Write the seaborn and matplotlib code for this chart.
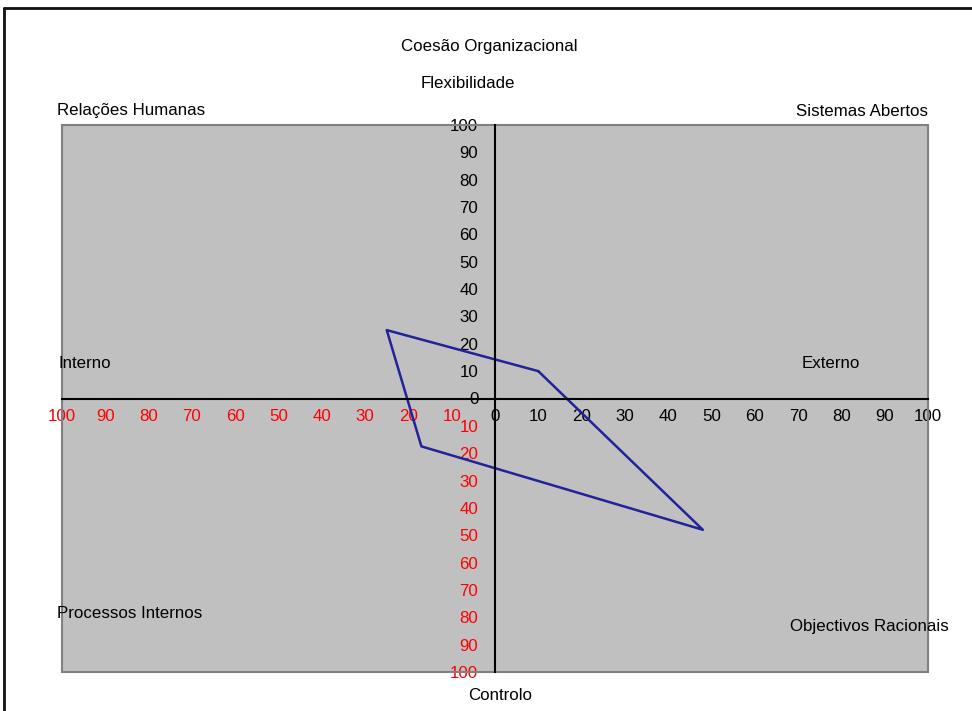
import matplotlib
matplotlib.use("Agg")
import matplotlib.pyplot as plt
from matplotlib.patches import Rectangle
from matplotlib.lines import Line2D
import seaborn as sns
import pandas as pd

# Profile points (Interno/Externo on x, Controlo/Flexibilidade on y)
profile_x = [10, 48, -17, -25]
profile_y = [10, -48, -17.5, 25]

tick_values = list(range(-100, 101, 10))
tick_labels = [str(abs(v)) for v in tick_values]

sns.set_style("white")
plt.rcParams['font.family'] = ['Liberation Sans', 'DejaVu Sans']

FS = 12.2
W, H = 972, 711
fig = plt.figure(figsize=(W / 100, H / 100), dpi=100)
ax = fig.add_axes([62 / W, 1 - 672 / H, (928 - 62) / W, (672 - 125) / H])
ax.set_facecolor('#C0C0C0')

# closed polygon
df = pd.DataFrame({
    'x': profile_x + profile_x[:1],
    'y': profile_y + profile_y[:1],
})
sns.lineplot(data=df, x='x', y='y', sort=False, estimator=None,
             color='#22229a', linewidth=1.8, ax=ax)

ax.set_xlim(-100, 100)
ax.set_ylim(-100, 100)
ax.set_xlabel('')
ax.set_ylabel('')

for s in ['top', 'right']:
    ax.spines[s].set_visible(False)
for s in ['left', 'bottom']:
    ax.spines[s].set_position(('data', 0))
    ax.spines[s].set_color('black')
    ax.spines[s].set_linewidth(1.5)
    ax.spines[s].set_zorder(3)

ax.set_xticks(tick_values)
ax.set_xticklabels(tick_labels)
ax.set_yticks(tick_values)
ax.set_yticklabels(tick_labels)
ax.tick_params(axis='both', direction='out', length=5, width=1.3,
               color='black', labelsize=FS)
ax.tick_params(axis='x', pad=2.5)
ax.tick_params(axis='y', pad=7)
for lbl, v in zip(ax.get_xticklabels(), tick_values):
    lbl.set_color('red' if v < 0 else 'black')
for lbl, v in zip(ax.get_yticklabels(), tick_values):
    lbl.set_color('red' if v < 0 else 'black')

# plot-area frame
ax.add_patch(Rectangle((0, 0), 1, 1, transform=ax.transAxes, fill=False,
                       edgecolor='#808080', linewidth=1.5, clip_on=False, zorder=1))

# outer chart frame (left and top edges)
fig.add_artist(Line2D([4 / W, 4 / W], [0, 1 - 8 / H], transform=fig.transFigure,
                      color='#111111', linewidth=2))
fig.add_artist(Line2D([4 / W, 1], [1 - 8 / H, 1 - 8 / H], transform=fig.transFigure,
                      color='#111111', linewidth=2))


def label(x, y, s, ha='left'):
    fig.text(x / W, 1 - y / H, s, ha=ha, va='center', fontsize=FS, color='black')


label(489, 47, 'Coesão Organizacional', ha='center')
label(468, 83, 'Flexibilidade', ha='center')
label(57, 111, 'Relações Humanas')
label(928, 111, 'Sistemas Abertos', ha='right')
label(58, 363, 'Interno')
label(831, 363, 'Externo', ha='center')
label(57, 614, 'Processos Internos')
label(790, 626, 'Objectivos Racionais')
label(500, 695, 'Controlo', ha='center')

fig.savefig('out.png', dpi=100)
